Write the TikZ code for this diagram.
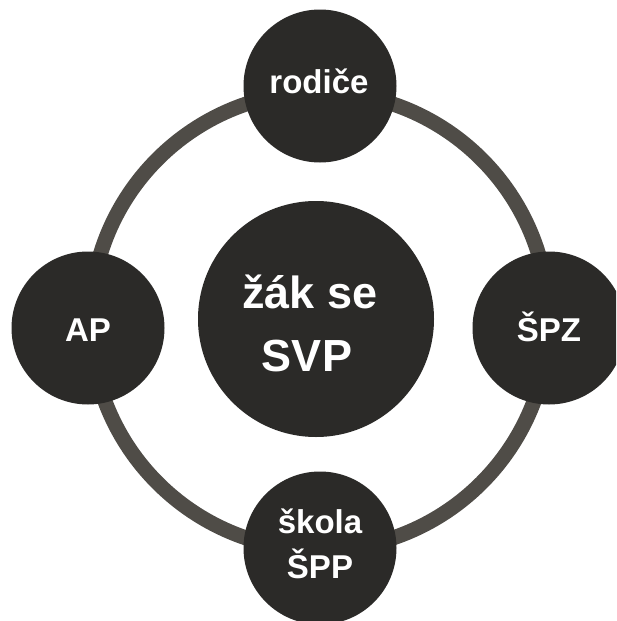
\documentclass[tikz,border=0pt]{standalone}
\usepackage{fontspec}
\setmainfont{Liberation Sans}
\definecolor{discfill}{HTML}{2B2A28}
\definecolor{ringgray}{HTML}{4F4C47}
\begin{document}
\begin{tikzpicture}[x=1pt,y=-1pt,
  disc/.style={circle,fill=discfill,draw=none,inner sep=0pt,minimum size=#1},
  satlabel/.style={text=white,font=\fontsize{33}{45}\selectfont\bfseries,anchor=base,inner sep=0pt,align=center},
  centerlabel/.style={text=white,font=\fontsize{45}{63}\selectfont\bfseries,anchor=base,inner sep=0pt,align=center},
  ringline/.style={draw=ringgray,line width=15pt}]
\useasboundingbox (0,0) rectangle (616,621);
\clip (0,0) rectangle (616,621);
\fill[white] (0,0) rectangle (616,621);
\coordinate (ringc) at (319.5,321);
\draw[ringline] (ringc) circle[radius=229];
\node[disc=236pt] (center) at (316,319) {};
\node[disc=153pt] (top) at (320,86) {};
\node[disc=153pt] (left) at (88,328) {};
\node[disc=153pt] (right) at (549,328) {};
\node[disc=153pt] (bottom) at (320,548) {};
\node[satlabel] (ttop) at (319,93) {rodiče};
\node[satlabel] (tleft) at (88,341) {AP};
\node[satlabel] (tright) at (549,341) {ŠPZ};
\node[satlabel] (tbot1) at (320,533) {škola};
\node[satlabel] (tbot2) at (320,578) {ŠPP};
\node[centerlabel] (tc1) at (310,308) {žák se};
\node[centerlabel] (tc2) at (307,371) {SVP};
\end{tikzpicture}
\end{document}
